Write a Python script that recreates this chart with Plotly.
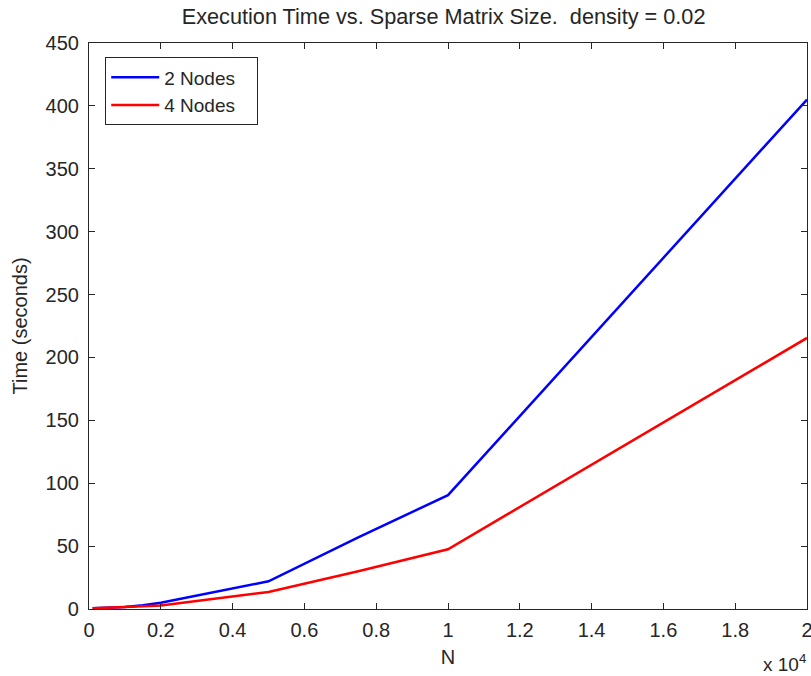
import plotly.graph_objects as go

N = [100, 500, 1000, 1500, 2000, 5000, 7500, 10000, 20000]
time_2_nodes = [0.5, 1.0, 1.5, 3.0, 5.0, 22.0, 57.0, 90.5, 405.0]
time_4_nodes = [0.5, 1.0, 1.2, 1.8, 2.8, 13.5, 30.0, 47.5, 215.5]

x_tick_vals = [0, 2000, 4000, 6000, 8000, 10000, 12000, 14000, 16000, 18000, 20000]
x_tick_text = ["0", "0.2", "0.4", "0.6", "0.8", "1", "1.2", "1.4", "1.6", "1.8", "2"]
y_tick_vals = [0, 50, 100, 150, 200, 250, 300, 350, 400, 450]

FONT = "Liberation Sans, Arial, Helvetica, sans-serif"
INK = "#262626"

fig = go.Figure()
fig.add_trace(go.Scatter(x=N, y=time_2_nodes, mode="lines", name="2 Nodes\u00a0\u00a0\u00a0",
                         line=dict(color="#0000FF", width=2.5)))
fig.add_trace(go.Scatter(x=N, y=time_4_nodes, mode="lines", name="4 Nodes\u00a0\u00a0\u00a0",
                         line=dict(color="#FF0000", width=2.5)))

axis_common = dict(showline=True, linecolor=INK, linewidth=1.2, automargin=False,
                   mirror="ticks", ticks="inside", ticklen=6, tickcolor=INK,
                   showgrid=False, zeroline=False, ticklabeloverflow="allow",
                   tickfont=dict(family=FONT, size=20, color=INK))

fig.update_xaxes(range=[0, 20000], tickvals=x_tick_vals, ticktext=x_tick_text,
                 ticklabelstandoff=3,
                 title=dict(text="N", font=dict(family=FONT, size=20, color=INK), standoff=9),
                 **axis_common)
fig.update_yaxes(range=[0, 450], tickvals=y_tick_vals, ticklabelstandoff=5,
                 title=dict(text="Time (seconds)", font=dict(family=FONT, size=20, color=INK), standoff=12),
                 **axis_common)

fig.add_annotation(xref="paper", yref="paper", x=1.0, y=-0.072, xanchor="right", yanchor="top",
                   text="x 10<sup>4</sup>", showarrow=False, borderpad=0,
                   font=dict(family=FONT, size=19, color=INK))

fig.update_layout(
    width=811, height=676,
    margin=dict(l=89, r=4, t=43, b=67, autoexpand=False),
    paper_bgcolor="white", plot_bgcolor="white",
    title=dict(text="Execution Time vs. Sparse Matrix Size.  density = 0.02",
               x=0.547, xanchor="center", y=0.975, yanchor="middle",
               font=dict(family=FONT, size=21.7, color=INK)),
    legend=dict(x=0.0223, y=0.975, xanchor="left", yanchor="top",
                bgcolor="white", bordercolor=INK, borderwidth=1.2,
                itemwidth=48,
                font=dict(family=FONT, size=19, color=INK)),
    showlegend=True,
)

fig.write_html("out.html", config={"displayModeBar": False},
               post_script="document.body.style.margin='0px';document.body.style.overflow='hidden';")
